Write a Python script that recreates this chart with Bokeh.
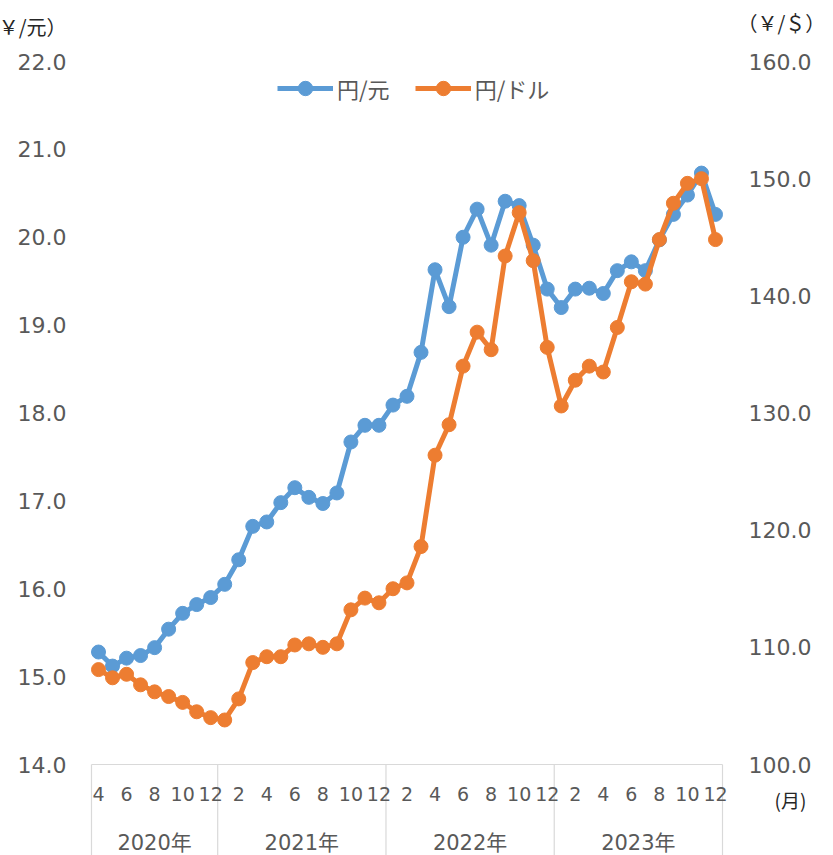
from bokeh.plotting import figure
from bokeh.models import (Range1d, LinearAxis, FixedTicker, NumeralTickFormatter,
                          Legend, LegendItem, ColumnDataSource)
from bokeh.embed import file_html
from bokeh.resources import INLINE

# ---- data ----
years = ["2020年", "2021年", "2022年", "2023年"]
year_months = [9, 12, 12, 12]          # months shown per year (2020: Apr-Dec)
first_month = 4
cny = [15.28, 15.12, 15.21, 15.24, 15.33, 15.54, 15.72, 15.82, 15.90,
       16.05, 16.33, 16.71, 16.76, 16.98, 17.15, 17.04, 16.97, 17.09, 17.67, 17.86, 17.86,
       18.09, 18.19, 18.69, 19.63, 19.21, 20.00, 20.32, 19.91, 20.41, 20.36, 19.91, 19.41,
       19.20, 19.41, 19.42, 19.36, 19.62, 19.72, 19.62, 19.97, 20.26, 20.48, 20.73, 20.26]
usd = [108.1, 107.4, 107.7, 106.8, 106.2, 105.8, 105.3, 104.5, 104.0,
       103.8, 105.6, 108.7, 109.2, 109.2, 110.2, 110.3, 110.0, 110.3, 113.2, 114.2, 113.8,
       115.0, 115.5, 118.6, 126.4, 129.0, 134.0, 136.9, 135.4, 143.4, 147.1, 143.0, 135.6,
       130.6, 132.8, 134.0, 133.5, 137.3, 141.2, 141.0, 144.8, 147.9, 149.6, 150.0, 144.8]
cny_ticks = [14, 15, 16, 17, 18, 19, 20, 21, 22]
usd_ticks = [100, 110, 120, 130, 140, 150, 160]
series_names = ["円/元", "円/ドル"]
unit_left = "（￥/元）"
unit_right = "（￥/＄）"
unit_x = "(月)"

# ---- layout (pixels) ----
W, H = 833, 855
PL, PR, PT, PB = 91, 722, 61, 764     # plot-area edges

n = len(cny)
idx = list(range(n))
month_nums = [(first_month - 1 + i) % 12 + 1 for i in idx]
month_tick_pos = idx[::2]
month_overrides = {i: str(month_nums[i]) for i in month_tick_pos}
bounds = [-0.5]
for m in year_months:
    bounds.append(bounds[-1] + m)
year_centers = [(bounds[k] + bounds[k + 1]) / 2 for k in range(len(years))]

cny_lo, cny_hi = cny_ticks[0], cny_ticks[-1]
usd_lo, usd_hi = usd_ticks[0], usd_ticks[-1]
pxx = (PR - PL) / n
pxc = (PB - PT) / (cny_hi - cny_lo)
pxu = (PB - PT) / (usd_hi - usd_lo)
x_start, x_end = -0.5 - PL / pxx, n - 0.5 + (W - PR) / pxx
c_start, c_end = cny_lo - (H - PB) / pxc, cny_hi + PT / pxc
u_start, u_end = usd_lo - (H - PB) / pxu, usd_hi + PT / pxu

BLUE = "#5B9BD5"
ORANGE = "#ED7D31"
GREY = "#595959"
DARK = "#262626"
LINEC = "#D9D9D9"
NUMF = "'DejaVu Sans', 'Noto Sans CJK JP'"
CJKF = "'Noto Sans CJK JP'"

p = figure(width=W, height=H, x_range=Range1d(x_start, x_end), y_range=Range1d(c_start, c_end),
           x_axis_type=None, y_axis_type=None, output_backend="svg", toolbar_location=None,
           min_border=0)
p.extra_y_ranges = {"usd": Range1d(u_start, u_end)}
p.outline_line_color = None
p.background_fill_color = "white"


def plain_axis(ax, font, size, color, standoff):
    ax.axis_line_color = None
    ax.major_tick_line_color = None
    ax.minor_tick_line_color = None
    ax.major_tick_in = 0
    ax.major_tick_out = 0
    ax.minor_tick_in = 0
    ax.minor_tick_out = 0
    ax.major_label_text_font = font
    ax.major_label_text_font_size = size
    ax.major_label_text_color = color
    ax.major_label_standoff = standoff


# left value axis
ly = LinearAxis(fixed_location=-0.5, ticker=FixedTicker(ticks=cny_ticks),
                formatter=NumeralTickFormatter(format="0.0"))
plain_axis(ly, NUMF, "22px", GREY, 25)
p.add_layout(ly, "left")
# left unit
lu = LinearAxis(fixed_location=-0.5,
                ticker=FixedTicker(ticks=[cny_hi + (PT - 26) / pxc]))
lu.major_label_overrides = {lu.ticker.ticks[0]: unit_left}
plain_axis(lu, CJKF, "20px", DARK, 25)
p.add_layout(lu, "left")

# right value axis
ry = LinearAxis(fixed_location=n - 0.5, y_range_name="usd", ticker=FixedTicker(ticks=usd_ticks),
                formatter=NumeralTickFormatter(format="0.0"))
plain_axis(ry, NUMF, "22px", GREY, 26)
p.add_layout(ry, "right")
# right unit
ru = LinearAxis(fixed_location=n - 0.5, y_range_name="usd",
                ticker=FixedTicker(ticks=[usd_hi + (PT - 22) / pxu]))
ru.major_label_overrides = {ru.ticker.ticks[0]: unit_right}
plain_axis(ru, CJKF, "20px", DARK, 15)
p.add_layout(ru, "right")
# month unit
mu = LinearAxis(fixed_location=n - 0.5, y_range_name="usd",
                ticker=FixedTicker(ticks=[usd_lo - (799 - PB) / pxu]))
mu.major_label_overrides = {mu.ticker.ticks[0]: unit_x}
plain_axis(mu, CJKF, "19px", DARK, 52)
p.add_layout(mu, "right")

# month axis
mx = LinearAxis(fixed_location=cny_lo, bounds=(-0.5, n - 0.5),
                ticker=FixedTicker(ticks=month_tick_pos), major_label_overrides=month_overrides)
plain_axis(mx, NUMF, "19px", GREY, 22)
mx.axis_line_color = LINEC
mx.axis_line_width = 1.2
p.add_layout(mx, "below")

# year axis
yx = LinearAxis(fixed_location=cny_lo, bounds=(-0.5, n - 0.5),
                ticker=FixedTicker(ticks=year_centers),
                major_label_overrides={c: t for c, t in zip(year_centers, years)})
plain_axis(yx, NUMF, "21px", GREY, 66)
p.add_layout(yx, "below")

# year separators
p.segment(x0=bounds, y0=[cny_lo] * len(bounds), x1=bounds, y1=[c_start] * len(bounds),
          line_color=LINEC, line_width=1.2)

src = ColumnDataSource(dict(x=idx, cny=cny, usd=usd))
l1 = p.line("x", "cny", source=src, line_color=BLUE, line_width=5)
c1 = p.scatter("x", "cny", source=src, size=14, color=BLUE)
l2 = p.line("x", "usd", source=src, y_range_name="usd", line_color=ORANGE, line_width=5)
c2 = p.scatter("x", "usd", source=src, y_range_name="usd", size=14, color=ORANGE)

legend = Legend(items=[LegendItem(label=series_names[0], renderers=[l1, c1]),
                       LegendItem(label=series_names[1], renderers=[l2, c2])],
                orientation="horizontal", location=(277, H - 106),
                glyph_width=56, glyph_height=36, label_standoff=4, spacing=25,
                padding=0, margin=0, border_line_color=None, background_fill_alpha=0,
                label_text_font=CJKF, label_text_font_size="22px", label_text_color=GREY)
p.add_layout(legend, "center")

open("out.html", "w").write(file_html(p, INLINE))
